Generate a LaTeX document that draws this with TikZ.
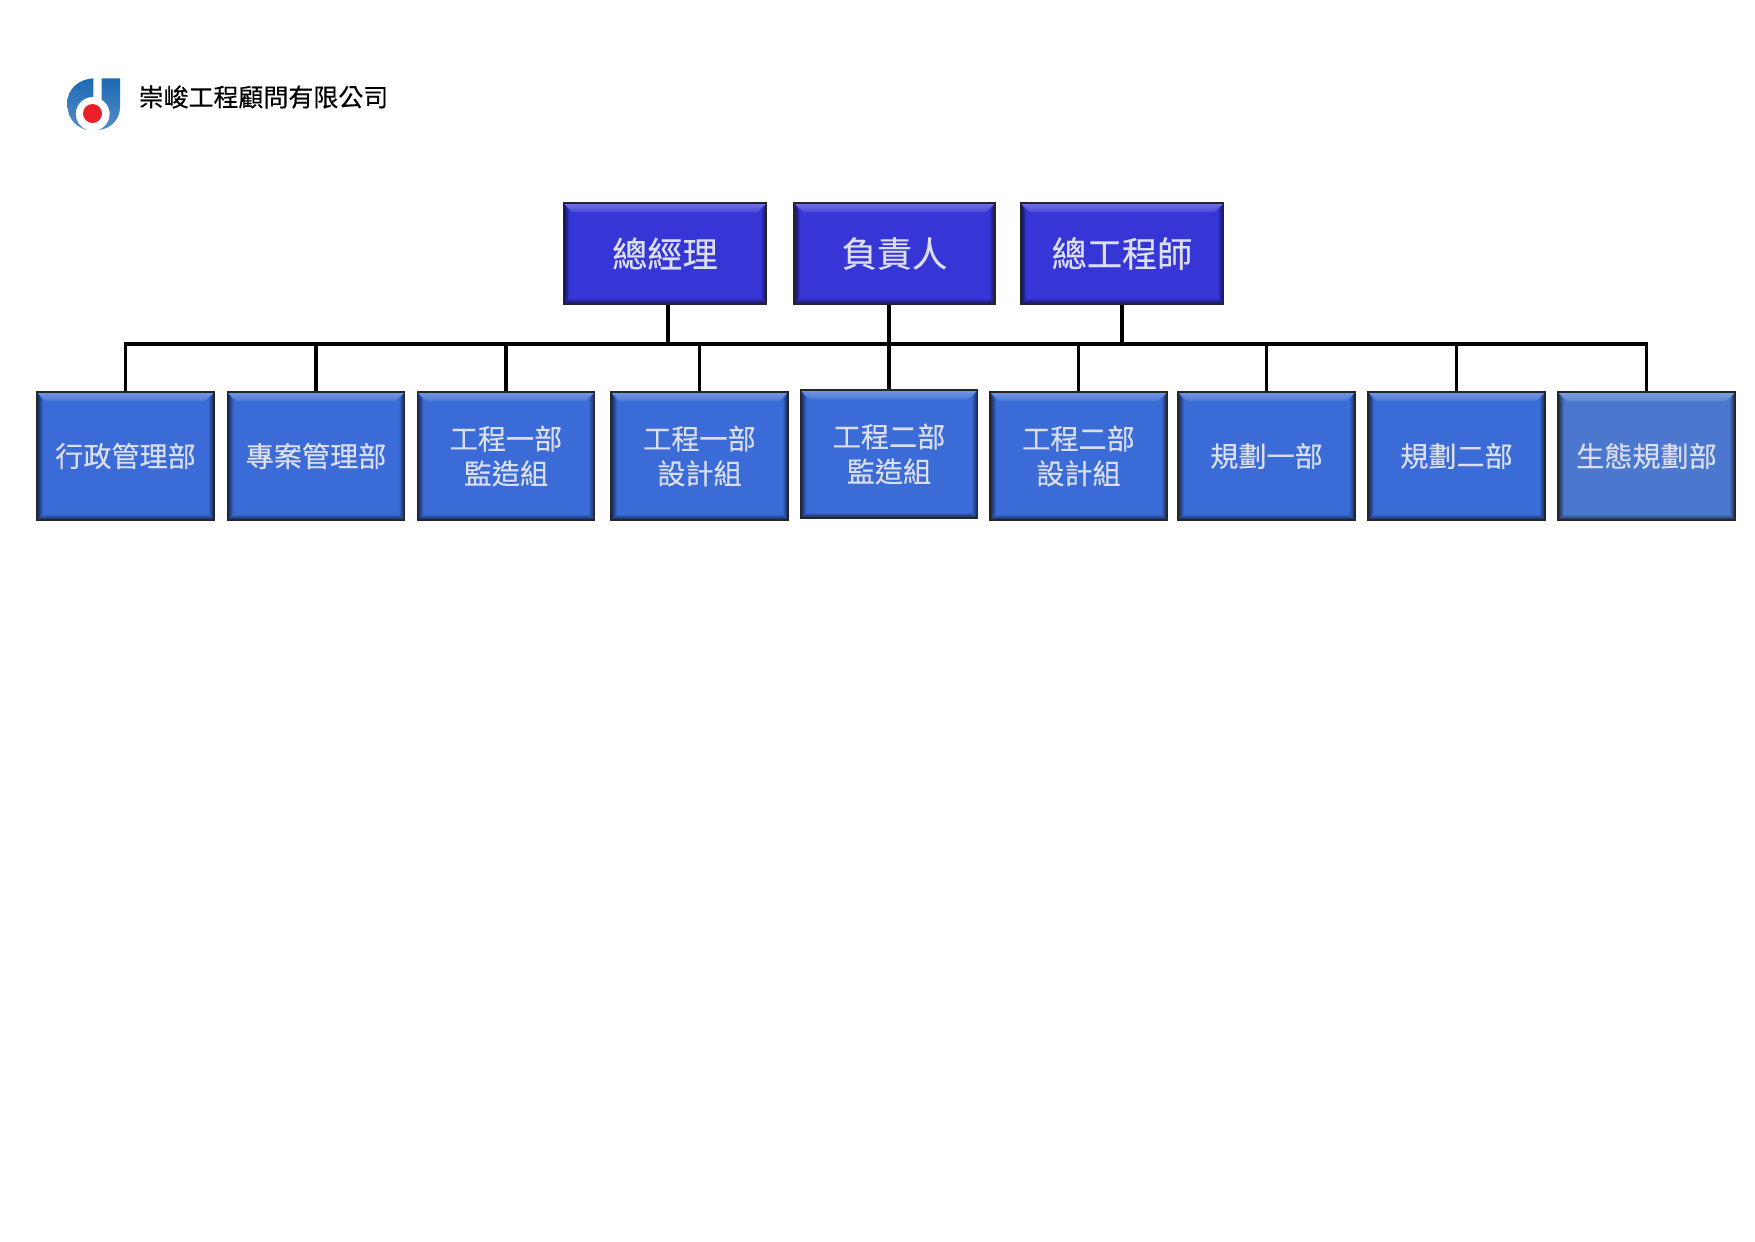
\documentclass[tikz,border=0pt]{standalone}
\usepackage{fontspec}
\setmainfont[FakeBold=0.3]{Noto Sans CJK TC}
\usetikzlibrary{positioning}
\definecolor{ChunNavy}{HTML}{3636D6}
\definecolor{ChunBlue}{HTML}{3A6BD6}
\definecolor{ChunPale}{HTML}{4B78CE}
\definecolor{ChunText}{HTML}{DADEEE}
\definecolor{ChunLogo}{HTML}{1C69B4}
\definecolor{ChunRed}{HTML}{E8202A}
\tikzset{
  bevelbox/.style={draw=black!85,line width=.5pt,fill=#1,inner sep=0pt,align=center,
    text=ChunText,
    path picture={
      \coordinate (bl) at (path picture bounding box.south west);
      \coordinate (tr) at (path picture bounding box.north east);
      \shade[left color=#1!35!black,right color=#1] (bl) -- ([shift={(.06,.06)}]bl) -- ([shift={(.06,-.09)}]bl |- tr) -- (bl |- tr) -- cycle;
      \shade[left color=#1,right color=#1!35!black] (bl -| tr) -- ([shift={(-.06,.06)}]bl -| tr) -- ([shift={(-.06,-.09)}]tr) -- (tr) -- cycle;
      \shade[top color=#1,bottom color=#1!35!black] (bl) -- (bl -| tr) -- ([shift={(-.06,.06)}]bl -| tr) -- ([shift={(.06,.06)}]bl) -- cycle;
      \shade[top color=#1!70!white,bottom color=#1!90!white] (bl |- tr) -- (tr) -- ([shift={(-.09,-.09)}]tr) -- ([shift={(.09,-.09)}]bl |- tr) -- cycle;
    }},
  topbox/.style={bevelbox=ChunNavy,minimum width=2.03cm,minimum height=1.01cm,
    font=\fontsize{10}{12}\selectfont},
  deptbox/.style={bevelbox=#1,minimum width=1.77cm,minimum height=1.28cm,
    font=\fontsize{8}{9.9}\selectfont},
  deptbox/.default=ChunBlue,
  link/.style={line width=.9pt,draw=black}
}
\begin{document}
\begin{tikzpicture}
  \useasboundingbox (0,0) rectangle (17.55,-12.41);
  % logo
  \shade[top color=ChunLogo,bottom color=ChunLogo!75] (.933,-.783) -- (.933,-.97)
    arc[start angle=88,end angle=250,radius=.17]
    .. controls (.72,-1.26) and (.673,-1.15) .. (.673,-1.03)
    .. controls (.673,-.88) and (.80,-.79) .. (.933,-.783) -- cycle;
  \shade[top color=ChunLogo,bottom color=ChunLogo!75] (1.017,-.783) -- (1.20,-.783) -- (1.20,-1.07)
    .. controls (1.20,-1.2) and (1.10,-1.29) .. (.985,-1.30)
    arc[start angle=-70,end angle=58,radius=.17] -- cycle;
  \fill[ChunRed] (.925,-1.135) circle (.095);
  \node[anchor=west,font=\fontsize{7.1}{8}\selectfont,inner sep=0pt] (title) at (1.38,-.97) {崇峻工程顧問有限公司};

  % top row
  \node[topbox] (gm) at (6.65,-2.535) {總經理};
  \node[topbox,minimum width=2.01cm] (owner) at (8.945,-2.535) {負責人};
  \node[topbox] (chief) at (11.22,-2.535) {總工程師};

  % departments
  \node[deptbox] (admin) at (1.255,-4.56) {行政管理部};
  \node[deptbox] (pm) at (3.16,-4.56) {專案管理部};
  \node[deptbox] (supa) at (5.06,-4.56) {工程一部\\監造組};
  \node[deptbox] (desa) at (6.995,-4.56) {工程一部\\設計組};
  \node[deptbox] (supb) at (8.89,-4.54) {工程二部\\監造組};
  \node[deptbox] (desb) at (10.785,-4.56) {工程二部\\設計組};
  \node[deptbox] (plana) at (12.665,-4.56) {規劃一部};
  \node[deptbox] (planb) at (14.565,-4.56) {規劃二部};
  \node[deptbox=ChunPale] (eco) at (16.465,-4.56) {生態規劃部};

  % connectors
  \coordinate (busl) at (1.255,-3.44);
  \coordinate (busr) at (16.465,-3.44);
  \draw[link] (admin.north) -- (busl) -- (busr) -- (eco.north);
  \foreach \dept in {pm,supa,desa,supb,desb,plana,planb}
    \draw[link] (\dept.north) -- (\dept.north |- busl);
  \draw[link] ([xshift=.03cm]gm.south) -- ([xshift=.03cm]gm.south |- busl);
  \draw[link] ([xshift=-.055cm]owner.south) -- ([xshift=-.055cm]owner.south |- busl);
  \draw[link] (chief.south) -- (chief.south |- busl);
\end{tikzpicture}
\end{document}
